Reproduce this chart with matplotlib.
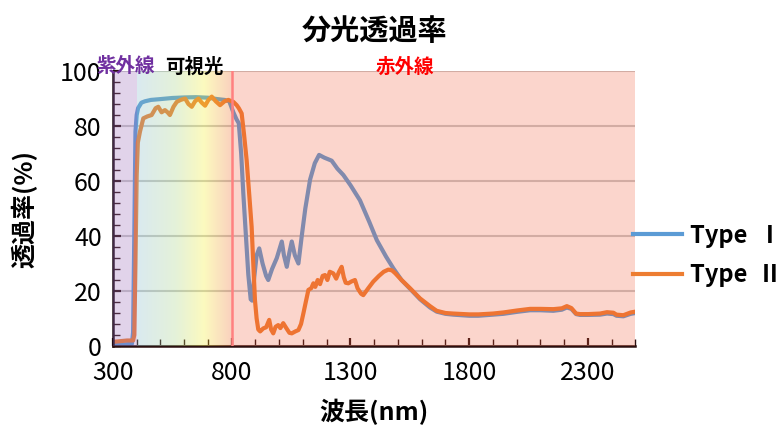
import matplotlib
matplotlib.use("Agg")
import matplotlib.pyplot as plt
import numpy as np
from matplotlib.colors import LinearSegmentedColormap

plt.rcParams['font.family'] = ['Noto Sans CJK JP', 'DejaVu Sans']

# Type I (blue)
wl_1 = [300, 350, 380, 385, 390, 395, 400, 406, 420, 435, 460, 500, 550, 600, 650, 700, 740,
        770, 790, 807, 820, 830, 840, 849, 860, 870, 880, 886, 895, 905, 916, 930, 945, 954,
        970, 990, 1011, 1020, 1032, 1043, 1053, 1066, 1081, 1095, 1110, 1130, 1150, 1168, 1190,
        1221, 1245, 1270, 1300, 1340, 1380, 1411, 1450, 1481, 1515, 1551, 1593, 1635, 1663,
        1700, 1733, 1800, 1839, 1900, 1944, 2000, 2056, 2100, 2154, 2190, 2211, 2230, 2250,
        2267, 2300, 2351, 2380, 2407, 2420, 2449, 2480, 2500]
t_1 = [0.5, 0.6, 0.8, 5, 40, 78, 84, 86.5, 88.5, 89, 89.5, 89.8, 90.2, 90.4, 90.5, 90.3, 89.8,
       89.5, 89, 85, 82.5, 81, 70, 55.5, 40, 26, 17, 16.5, 25, 33, 35.5, 30, 25.5, 24,
       28, 32, 38, 33, 28.8, 34, 38, 33, 30, 40, 50, 60.5, 66.5, 69.5, 68.5,
       67.4, 64.5, 62.2, 58.5, 53, 45, 38.5, 32.5, 28.2, 24, 20.8, 17, 14, 12.5,
       11.7, 11.4, 11.0, 11.0, 11.4, 11.7, 12.4, 13.0, 13.0, 12.8, 13.2, 14.0, 13.5, 11.6,
       11.3, 11.3, 11.4, 11.8, 11.6, 11.0, 10.8, 11.7, 12.0]

# Type II (orange)
wl_2 = [300, 360, 385, 390, 395, 400, 405, 414, 428, 445, 463, 480, 491, 505, 519, 530, 540,
        555, 569, 585, 604, 618, 632, 646, 660, 674, 688, 702, 716, 733, 751, 770, 786, 800,
        807, 821, 830, 842, 852, 863, 874, 884, 892, 898, 905, 912, 920, 933, 945, 958, 966,
        975, 985, 996, 1005, 1017, 1030, 1043, 1053, 1068, 1081, 1092, 1102, 1112, 1123, 1135,
        1144, 1152, 1162, 1172, 1183, 1193, 1203, 1213, 1228, 1240, 1252, 1263, 1272, 1280,
        1291, 1305, 1319, 1330, 1345, 1354, 1375, 1396, 1420, 1440, 1460, 1475, 1488, 1515,
        1551, 1593, 1635, 1663, 1700, 1733, 1800, 1839, 1900, 1944, 2000, 2056, 2100, 2154,
        2190, 2211, 2230, 2250, 2267, 2300, 2351, 2380, 2407, 2420, 2449, 2480, 2500]
t_2 = [1.5, 2, 2, 4, 30, 62, 74, 78, 82.8, 83.5, 84, 86.5, 87, 85, 85.8, 85, 84,
       87, 88.8, 89.5, 90, 88, 87, 89, 90, 88.5, 87.4, 89.5, 90.7, 89, 87.6, 89, 89.5, 89,
       88.8, 87.6, 86.5, 84.6, 77, 67.6, 55, 43.4, 28, 16.7, 10, 6, 5.3, 6.4, 6.8, 9.5, 6,
       4.6, 7, 7.6, 6.5, 8.3, 6.5, 4.8, 4.6, 5.3, 5.8, 8, 11.9, 16, 20.4, 21,
       22.8, 21.5, 24, 22.5, 25.5, 25.8, 24, 27, 26.4, 24.5, 27, 28.8, 25, 23,
       22.8, 23.5, 24, 21, 19, 18.5, 21, 23.4, 25.5, 27, 27.8, 27.5, 26.5, 24,
       21, 17.3, 14.5, 12.8, 12.0, 11.8, 11.5, 11.5, 11.8, 12.2, 12.9, 13.5, 13.5, 13.4,
       13.7, 14.5, 13.8, 11.8, 11.6, 11.6, 11.8, 12.3, 12.1, 11.4, 11.2, 12.2, 12.5]

x_ticks = [300, 800, 1300, 1800, 2300]
y_ticks = [0, 20, 40, 60, 80, 100]

fig = plt.figure(figsize=(7.83, 4.28), dpi=100)
ax = fig.add_axes([0.1442, 0.1916, 0.8116 - 0.1442, 0.834 - 0.1916])

ax.plot(wl_1, t_1, color='#5b9bd5', lw=3.0, zorder=2, label='Type  Ⅰ')
ax.plot(wl_2, t_2, color='#ed7d31', lw=3.0, zorder=2.1, label='Type  Ⅱ')

# band overlays (drawn over the lines, semi transparent)
ax.axvspan(300, 400, ymin=0, ymax=1, color=(158/255, 112/255, 188/255), alpha=0.3, lw=0, zorder=3)
ax.axvspan(800, 2500, ymin=0, ymax=1, color=(243/255, 91/255, 55/255), alpha=0.25, lw=0, zorder=3)
cmap = LinearSegmentedColormap.from_list('vis', [
    (0.0, (132/255, 185/255, 205/255)),
    (0.4, (165/255, 210/255, 130/255)),
    (0.7, (245/255, 238/255, 40/255)),
    (1.0, (238/255, 95/255, 40/255))])
grad = cmap(np.linspace(0, 1, 256))[None, :, :]
grad[..., 3] = 0.3
ax.imshow(grad, extent=(400, 800, 0, 100), aspect='auto', zorder=3, interpolation='bilinear')
ax.axvline(800, color='#ff8080', lw=1.8, zorder=3.5)

ax.set_xlim(300, 2500)
ax.set_ylim(0, 100)
ax.set_xticks(x_ticks)
ax.set_yticks(y_ticks)
ax.set_xticks(np.arange(300, 2501, 100), minor=True)
ax.set_yticks(np.arange(0, 101, 4), minor=True)
ax.tick_params(axis='both', which='major', direction='in', length=6, width=1.6,
               labelsize=18, color='#2a1010')
ax.tick_params(axis='both', which='minor', direction='in', length=5, width=1.0, color='#2a1010')
ax.tick_params(axis='x', pad=10)
ax.tick_params(axis='y', pad=8)
ax.yaxis.grid(True, color='#c8c8c8', lw=1.5, zorder=1)
ax.set_axisbelow(True)
for s in ['top', 'right']:
    ax.spines[s].set_visible(False)
ax.spines['left'].set_color('#1a0a14')
ax.spines['left'].set_linewidth(1.8)
ax.spines['bottom'].set_color('#2a1010')
ax.spines['bottom'].set_linewidth(1.8)

ax.set_xlabel('波長(nm)', fontsize=18, fontweight='bold', labelpad=9)
ax.set_ylabel('透過率(%)', fontsize=18, fontweight='bold', labelpad=16)
ax.set_title('分光透過率', fontsize=21, fontweight='bold', pad=22)

ax.text(355, 101.5, '紫外線', color='#7030a0', fontsize=14, fontweight='bold',
        ha='center', va='center', zorder=5, clip_on=False)
ax.text(641, 101.5, '可視光', color='black', fontsize=14, fontweight='bold',
        ha='center', va='center', zorder=5, clip_on=False)
ax.text(1528, 101.5, '赤外線', color='red', fontsize=14, fontweight='bold',
        ha='center', va='center', zorder=5, clip_on=False)

leg = ax.legend(loc='center left', bbox_to_anchor=(0.995, 0.33), frameon=False,
                prop={'size': 17, 'weight': 'bold'}, handlelength=2.1,
                handletextpad=0.3, labelspacing=0.65, borderaxespad=0.0,
                borderpad=0.0)

fig.savefig('out.png', dpi=100)
